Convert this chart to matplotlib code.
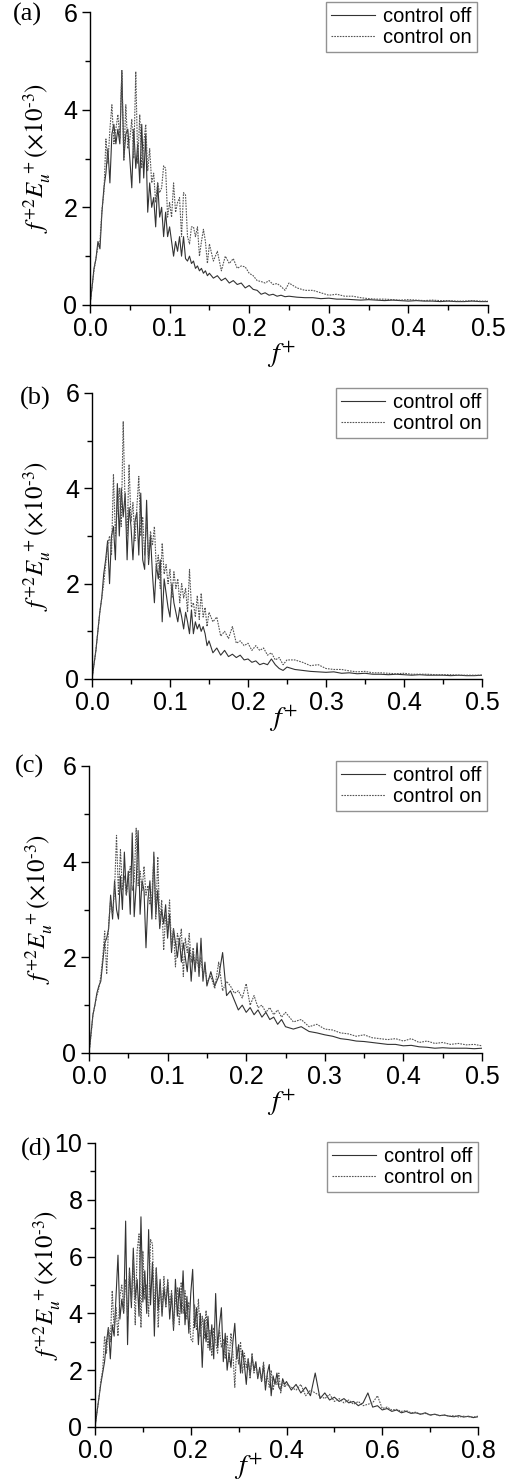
import numpy as np
import matplotlib
matplotlib.use("Agg")
import matplotlib.pyplot as plt
from matplotlib.ticker import MultipleLocator, FormatStrFormatter

plt.rcParams['font.family'] = ['Liberation Sans', 'DejaVu Sans']
plt.rcParams['mathtext.fontset'] = 'stix'

# frequency grid: fine where the spectrum is busy, coarse in the tail
F_ABC = np.round(np.concatenate([np.arange(0, 0.1501, 0.0025),
                                 np.arange(0.155, 0.2501, 0.005),
                                 np.arange(0.26, 0.5001, 0.01)]), 4)
F_D = np.round(np.concatenate([np.arange(0, 0.4001, 0.004),
                               np.arange(0.41, 0.8001, 0.01)]), 4)

# (a)
offA = [0, 0.35, 0.75, 0.95, 1.3, 1.15, 1.9, 2.4, 2.7, 3.2,
        2.5, 3.5, 3.7, 3.3, 3.6, 3.3, 4.8, 3.0, 3.5, 3.6,
        3.0, 2.4, 3.6, 2.8, 3.3, 2.5, 3.7, 2.6, 3.5, 1.9,
        2.5, 2.0, 2.2, 1.6, 2.5, 1.8, 2.0, 1.4, 1.9, 1.4,
        1.6, 1.3, 1.0, 1.3, 1.1, 1.4, 1.0, 1.4, 0.95, 0.9,
        1.0, 0.85, 0.9, 0.75, 0.8, 0.7, 0.75, 0.65, 0.7, 0.6,
        0.65,
        0.55, 0.6, 0.5, 0.55, 0.45, 0.5, 0.42, 0.45, 0.35, 0.4,
        0.32, 0.3, 0.22, 0.25, 0.2, 0.22, 0.18, 0.2, 0.17, 0.18,
        0.16, 0.15, 0.15, 0.13, 0.14, 0.12, 0.12, 0.11, 0.1, 0.11,
        0.1, 0.09, 0.1, 0.09, 0.08, 0.09, 0.08, 0.08, 0.07, 0.08,
        0.07, 0.07, 0.08, 0.07, 0.07]
onA = [0, 0.35, 0.7, 0.95, 1.2, 1.3, 1.95, 2.3, 3.4, 2.9,
       3.6, 4.1, 3.3, 3.6, 3.9, 3.4, 4.8, 2.95, 4.1, 3.2,
       3.4, 3.8, 3.0, 4.78, 2.9, 3.9, 2.8, 3.3, 3.7, 2.75,
       3.2, 2.5, 2.7, 2.1, 2.5, 2.3, 2.4, 2.85, 2.8, 1.8,
       2.1, 1.8, 2.5, 1.9, 2.1, 2.2, 1.4, 2.3, 2.25, 1.4,
       1.25, 1.6, 1.6, 1.4, 1.6, 1.0, 1.3, 1.55, 1.3, 0.85,
       1.25,
       0.9, 1.1, 0.7, 1.0, 0.85, 0.95, 0.75, 0.8, 0.78, 0.65,
       0.6, 0.5, 0.48, 0.45, 0.5, 0.42, 0.44, 0.38, 0.3, 0.45,
       0.35, 0.3, 0.3, 0.25, 0.2, 0.22, 0.18, 0.18, 0.15, 0.13,
       0.12, 0.12, 0.11, 0.1, 0.11, 0.1, 0.09, 0.1, 0.09, 0.09,
       0.08, 0.08, 0.09, 0.08, 0.08]

# (b)
offB = [0, 0.3, 0.6, 1.0, 1.4, 1.7, 2.2, 2.5, 2.9, 2.0,
        3.0, 3.2, 2.5, 4.1, 3.0, 4.0, 3.4, 3.9, 2.5, 3.6,
        3.2, 2.5, 3.3, 3.5, 2.6, 3.9, 2.5, 2.3, 3.75, 2.4,
        3.0, 2.2, 1.6, 2.4, 2.1, 2.5, 1.2, 2.1, 1.8, 1.5,
        1.3, 2.0, 1.6, 1.4, 1.2, 1.5, 1.3, 1.05, 1.4, 1.2,
        0.95, 1.45, 0.95, 1.2, 1.05, 1.15, 1.0, 1.1, 0.95, 0.7,
        0.8,
        0.55, 0.65, 0.5, 0.6, 0.47, 0.52, 0.45, 0.5, 0.4, 0.42,
        0.35, 0.38, 0.3, 0.33, 0.3, 0.42, 0.3, 0.22, 0.18, 0.25,
        0.2, 0.18, 0.16, 0.15, 0.14, 0.15, 0.12, 0.13, 0.11, 0.12,
        0.1, 0.1, 0.09, 0.1, 0.09, 0.08, 0.09, 0.08, 0.08, 0.08,
        0.07, 0.08, 0.07, 0.07, 0.08]
onB = [0, 0.3, 0.6, 1.0, 1.4, 1.7, 2.0, 2.4, 2.8, 3.0,
       2.6, 4.3, 3.0, 3.6, 4.0, 3.2, 5.4, 3.6, 3.0, 4.5,
       3.3, 3.7, 2.9, 3.6, 4.25, 3.0, 3.4, 2.6, 3.3, 2.5,
       3.1, 2.8, 3.2, 2.3, 2.6, 1.9, 2.85, 2.2, 2.4, 2.0,
       2.3, 1.7, 2.25, 1.9, 2.1, 1.6, 2.0, 1.7, 1.9, 1.4,
       2.3, 1.5, 1.6, 1.3, 1.75, 1.25, 1.8, 1.3, 1.5, 1.1,
       1.4,
       1.2, 1.3, 0.9, 1.0, 0.85, 1.1, 0.75, 0.8, 0.7, 0.75,
       0.6, 0.7, 0.6, 0.65, 0.5, 0.55, 0.4, 0.45, 0.3, 0.4,
       0.4, 0.35, 0.28, 0.3, 0.22, 0.2, 0.2, 0.17, 0.15, 0.16,
       0.13, 0.13, 0.12, 0.11, 0.12, 0.1, 0.1, 0.1, 0.09, 0.09,
       0.09, 0.08, 0.08, 0.08, 0.08]

# (c)
offC = [0, 0.4, 0.8, 1.0, 1.25, 1.4, 1.5, 1.9, 2.3, 2.4,
        2.6, 3.3, 2.8, 3.6, 3.0, 2.8, 3.7, 3.0, 4.2, 3.3,
        3.8, 2.9, 4.6, 2.85, 3.5, 4.65, 2.9, 3.6, 3.4, 2.2,
        3.2, 3.6, 2.8, 4.2, 2.9, 3.4, 2.6, 3.0, 2.7, 3.1,
        2.4, 2.9, 2.1, 2.6, 2.3, 2.0, 2.4, 1.9, 2.3, 2.0,
        1.7, 2.2, 1.5, 2.1, 1.7, 2.3, 1.6, 2.4, 1.5, 1.9,
        1.4,
        1.7, 1.4, 1.6, 2.1, 1.2, 1.3, 1.1, 0.9, 1.0, 0.85,
        0.95, 0.8, 0.9, 0.75, 0.85, 0.7, 0.75, 0.6, 0.7, 0.55,
        0.5, 0.55, 0.45, 0.42, 0.38, 0.35, 0.3, 0.28, 0.25, 0.24,
        0.22, 0.2, 0.18, 0.18, 0.15, 0.16, 0.13, 0.12, 0.1, 0.11,
        0.1, 0.1, 0.1, 0.09, 0.1]
onC = [0, 0.35, 0.8, 1.0, 1.2, 1.35, 1.6, 2.0, 2.55, 1.65,
       2.7, 3.2, 2.9, 3.4, 4.55, 3.3, 4.25, 3.4, 3.7, 3.3,
       3.6, 3.9, 3.4, 3.6, 4.7, 3.5, 3.8, 3.4, 3.9, 3.3,
       3.5, 3.1, 3.3, 4.1, 2.8, 4.1, 2.7, 3.2, 2.15, 2.9,
       2.6, 3.2, 2.2, 2.6, 1.8, 2.5, 2.3, 2.6, 1.6, 2.4,
       2.1, 2.5, 1.9, 2.2, 1.8, 2.0, 1.7, 2.0, 1.6, 1.8,
       1.5,
       1.6, 1.35, 1.9, 1.3, 1.5, 1.4, 1.25, 1.3, 1.15, 1.45,
       1.0, 1.2, 0.95, 1.0, 0.85, 0.95, 0.8, 0.9, 0.75, 0.85,
       0.65, 0.7, 0.55, 0.6, 0.5, 0.48, 0.42, 0.4, 0.35, 0.38,
       0.32, 0.3, 0.28, 0.3, 0.25, 0.3, 0.22, 0.25, 0.2, 0.22,
       0.18, 0.2, 0.17, 0.18, 0.15]

# (d)
offD = [0, 0.5, 1.0, 1.5, 1.9, 2.3, 3.0, 3.5, 2.4, 3.6,
        3.2, 4.6, 6.05, 3.8, 4.5, 4.0, 7.25, 2.9, 5.6, 4.2,
        6.3, 4.5, 5.2, 3.9, 7.4, 4.4, 5.5, 4.0, 6.95, 4.3,
        5.8, 3.2, 5.6, 4.1, 5.2, 3.9, 4.9, 4.3, 5.1, 3.8,
        4.7, 3.4, 5.2, 3.9, 4.9, 4.0, 5.5, 3.6, 4.6, 3.3,
        4.7, 5.55, 3.5, 4.2, 2.9, 4.0, 2.1, 3.8, 3.0, 3.9,
        2.7, 3.6, 2.4, 4.7, 2.8, 3.6, 4.2, 2.3, 3.3, 2.0,
        2.6, 2.1, 3.0, 3.65, 2.4, 2.9, 1.9, 2.7, 2.2, 1.5,
        2.4, 1.8, 2.5, 2.0, 2.3, 1.7, 2.1, 1.6, 2.2, 1.3,
        1.9, 2.2, 1.1, 1.8, 1.5, 1.9, 1.4, 1.3, 1.7, 1.5,
        1.6,
        1.3, 1.5, 1.2, 1.4, 1.1, 1.9, 1.0, 1.2, 0.95, 1.05,
        0.9, 1.0, 0.85, 0.9, 0.75, 0.85, 1.2, 0.7, 0.75, 0.6,
        0.65, 0.55, 0.6, 0.5, 0.55, 0.48, 0.5, 0.45, 0.5, 0.42,
        0.45, 0.4, 0.42, 0.38, 0.36, 0.4, 0.35, 0.38, 0.33, 0.36]
onD = [0, 0.5, 1.0, 1.6, 2.0, 3.2, 2.6, 3.5, 3.0, 4.8,
       3.4, 4.2, 3.2, 4.6, 5.0, 4.1, 5.2, 3.9, 5.5, 4.4,
       5.9, 3.6, 6.2, 6.8, 3.5, 6.2, 4.5, 5.0, 3.9, 6.6,
       6.45, 4.0, 5.6, 3.5, 5.0, 4.1, 5.3, 4.2, 5.2, 4.3,
       4.8, 3.5, 4.5, 4.9, 3.6, 5.1, 4.0, 4.8, 3.8, 4.4,
       3.1, 3.0, 4.3, 3.4, 4.5, 3.2, 3.9, 3.1, 4.1, 2.8,
       3.4, 2.5, 3.5, 3.0, 2.6, 3.4, 2.8, 3.1, 2.4, 3.2,
       2.3, 3.3, 2.6, 1.4, 2.8, 2.2, 3.0, 1.9, 2.6, 2.1,
       2.4, 1.7, 2.6, 1.9, 2.2, 1.8, 2.0, 1.6, 2.3, 1.5,
       1.8, 1.4, 2.0, 1.3, 1.7, 1.5, 1.9, 1.2, 1.6, 1.4,
       1.5,
       1.4, 1.3, 1.5, 1.1, 1.3, 1.2, 1.1, 1.0, 1.15, 0.9,
       1.0, 0.85, 0.95, 0.8, 0.9, 0.75, 0.8, 0.85, 1.1, 0.65,
       0.7, 0.6, 0.62, 0.55, 0.58, 0.5, 0.52, 0.45, 0.48, 0.42,
       0.45, 0.4, 0.42, 0.38, 0.4, 0.35, 0.38, 0.36, 0.35, 0.38]

W, H = 510, 1481

# label, axes rect in px (left, top, right, bottom), x, off, on, xmax, ymax,
# tick steps, legend anchor, panel-label px, ylabel x, xlabel pos
PANELS = [
    ("(a)", (90, 12, 488, 305), F_ABC, offA, onA, 0.5, 6, (0.1, 0.05, 2, 1),
     (0.972, 1.034), (13, 14), -0.093, (0.482, -0.115)),
    ("(b)", (92, 393, 482, 679), F_ABC, offB, onB, 0.5, 6, (0.1, 0.05, 2, 1),
     (1.013, 1.017), (20, 398), -0.10, (0.49, -0.085)),
    ("(c)", (89, 766, 482, 1053), F_ABC, offC, onC, 0.5, 6, (0.1, 0.05, 2, 1),
     (1.013, 1.017), (15, 766), -0.087, (0.49, -0.12)),
    ("(d)", (95, 1143, 478, 1427), F_D, offD, onD, 0.8, 10, (0.2, 0.1, 2, 1),
     (1.0, 1.004), (21, 1149), -0.084, (0.40, -0.085)),
]

fig = plt.figure(figsize=(W / 100, H / 100), dpi=100)

for label, (l, t, r, b), f, off, on, xmax, ymax, steps, legAnchor, labPos, ylabX, xlabPos in PANELS:
    ax = fig.add_axes([l / W, 1 - b / H, (r - l) / W, (b - t) / H])
    ax.plot(f, off, color='#333333', lw=0.8, ls='-', label='control off')
    ax.plot(f, on, color='#555555', lw=0.8, ls=(0, (1.5, 1)), label='control on')

    ax.set_xlim(0, xmax)
    ax.set_ylim(0, ymax)
    ax.spines['top'].set_visible(False)
    ax.spines['right'].set_visible(False)
    for s in ('left', 'bottom'):
        ax.spines[s].set_linewidth(1.0)

    ax.xaxis.set_major_locator(MultipleLocator(steps[0]))
    ax.xaxis.set_minor_locator(MultipleLocator(steps[1]))
    ax.yaxis.set_major_locator(MultipleLocator(steps[2]))
    ax.yaxis.set_minor_locator(MultipleLocator(steps[3]))
    ax.xaxis.set_major_formatter(FormatStrFormatter('%.1f'))
    ax.yaxis.set_major_formatter(FormatStrFormatter('%d'))
    ax.tick_params(which='major', direction='out', length=6, width=1.0, labelsize=18, pad=3)
    ax.tick_params(which='minor', direction='out', length=3.5, width=1.0)

    ax.set_ylabel(r'$f^{+2}E_u^{\ +}(\times10^{\text{-}3})$', fontsize=18)
    ax.yaxis.set_label_coords(ylabX, 0.5)
    ax.set_xlabel(r'$f^{+}$', fontsize=20)
    ax.xaxis.set_label_coords(xlabPos[0], xlabPos[1])

    leg = ax.legend(loc='upper right', bbox_to_anchor=legAnchor, borderaxespad=0,
                    fontsize=14.5, frameon=True, fancybox=False, handlelength=2.2,
                    handletextpad=0.4, labelspacing=0.1, borderpad=0.25)
    leg.get_frame().set_edgecolor('#777777')
    leg.get_frame().set_linewidth(1.0)

    fig.text(labPos[0] / W, 1 - labPos[1] / H, label, fontsize=19,
             family=['Liberation Serif', 'DejaVu Serif'], va='center', ha='left')

fig.savefig('out.png', dpi=100, facecolor='white')
